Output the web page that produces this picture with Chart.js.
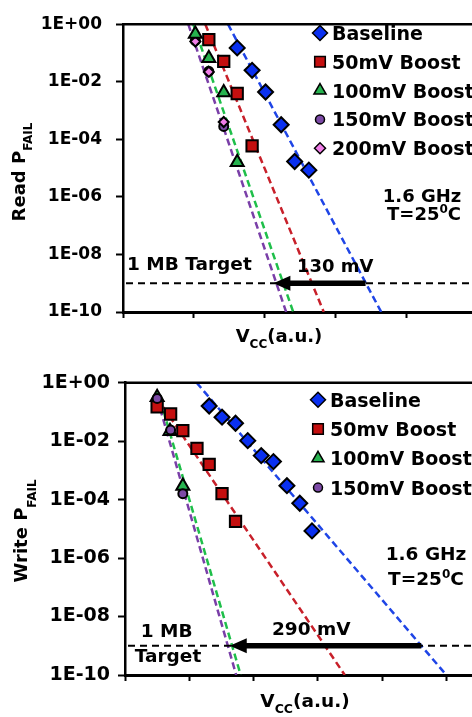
<!DOCTYPE html>
<html>
<head>
<meta charset="utf-8">
<script src="https://cdn.jsdelivr.net/npm/chart.js@4.4.0/dist/chart.umd.min.js"></script>
<style>
  body { margin:0; background:#fff; }
  .panel { position:absolute; left:0; width:472px; }
  #readPanel { top:0; height:360px; }
  #writePanel { top:360px; height:357px; }
</style>
</head>
<body>
<div class="panel" id="readPanel"><canvas id="readChart" width="472" height="360"></canvas></div>
<div class="panel" id="writePanel"><canvas id="writeChart" width="472" height="357"></canvas></div>
<script>
// Vcc in axis units (one unit per x tick), P_FAIL
const yTicks = [1, 1e-2, 1e-4, 1e-6, 1e-8, 1e-10];
const targetP = 1e-9;

// --- Read panel ---
const readNames = ['Baseline', '50mV Boost', '100mV Boost', '150mV Boost', '200mV Boost'];
const readBaseX = [1.61, 1.82, 2.01, 2.23, 2.42, 2.62];
const readBaseY = [0.15, 0.025, 0.0044, 3.2e-4, 1.7e-5, 8.5e-6];
const read50X = [1.21, 1.42, 1.61, 1.82];
const read50Y = [0.29, 0.051, 0.0039, 5.9e-5];
const read100X = [1.02, 1.21, 1.42, 1.61];
const read100Y = [0.46, 0.066, 0.0042, 1.6e-5];
const read150X = [1.02, 1.21, 1.42];
const read150Y = [0.27, 0.023, 2.8e-4];
const read200X = [1.02, 1.21, 1.42];
const read200Y = [0.25, 0.022, 4.0e-4];
// dashed fits: [start, end]
const readFitY = [1, 1e-10];
const readFitBaseX = [1.48, 3.64];
const readFit50X = [1.16, 2.83];
const readFit100X = [0.99, 2.40];
const readFit150X = [0.92, 2.30];
const readArrowX = [3.42, 2.12];

// --- Write panel ---
const writeNames = ['Baseline', '50mv Boost', '100mV Boost', '150mV Boost'];
const writeBaseX = [1.31, 1.51, 1.72, 1.91, 2.12, 2.31, 2.52, 2.72, 2.91];
const writeBaseY = [0.16, 0.066, 0.041, 0.0104, 0.0032, 0.002, 3.0e-4, 7.5e-5, 8.5e-6];
const write50X = [0.50, 0.71, 0.90, 1.12, 1.31, 1.51, 1.72];
const write50Y = [0.15, 0.085, 0.023, 0.0057, 0.0016, 1.6e-4, 1.8e-5];
const write100X = [0.50, 0.70, 0.90];
const write100Y = [0.32, 0.022, 2.9e-4];
const write150X = [0.50, 0.71, 0.90];
const write150Y = [0.29, 0.024, 1.6e-4];
const writeFitBaseX = [1.115, 5.0];
const writeFitBaseY = [1, 1e-10];
const writeFit50X = [0.5, 3.42];
const writeFit50Y = [0.3, 1e-10];
const writeFit100X = [0.55, 1.80];
const writeFit100Y = [0.25, 1e-10];
const writeFit150X = [0.5, 1.73];
const writeFit150Y = [0.3, 1e-10];
const writeArrowX = [4.61, 1.63];

const FONT = '"DejaVu Sans", sans-serif';
const MARK = {
  base: { style:'rectRot', r:7.5, fill:'#0a30f0', line:'#1f45e6' },
  b50:  { style:'rect', r:8, fill:'#c40f0f', line:'#c8202a' },
  b100: { style:'triangle', r:7.5, fill:'#27b34f', line:'#1fbf4a' },
  b150: { style:'circle', r:4.5, fill:'#7c4aa6', line:'#7a3fa8' },
  b200: { style:'rectRot', r:5, fill:'#f07ee8', line:'#f07ee8' }
};

const pts = (xs, ys) => xs.map((x, i) => ({ x, y: ys[i] }));

function markerSet(m, xs, ys, order){
  return { data: pts(xs, ys), showLine:false, pointStyle:m.style, pointRadius:m.r, pointHoverRadius:m.r,
    pointBackgroundColor:m.fill, pointBorderColor:'#000', pointBorderWidth:2, order };
}
function fitSet(m, xs, ys){
  return { data: pts(xs, ys), showLine:true, borderColor:m.line, borderWidth:2.5, borderDash:[7,4],
    pointRadius:0, fill:false, order:20 };
}

function fmtTick(v){
  const e = Math.round(Math.log10(v));
  return '1E' + (e < 0 ? '-' : '+') + String(Math.abs(e)).padStart(2, '0');
}

// text made of [string, size, dy] pieces (for sub/superscripts)
function drawParts(ctx, parts, x, y, align){
  let total = 0;
  const widths = parts.map(p => { ctx.font = 'bold ' + p[1] + 'px ' + FONT; const w = ctx.measureText(p[0]).width; total += w; return w; });
  let cx = align === 'center' ? x - total / 2 : x;
  ctx.textAlign = 'left';
  ctx.textBaseline = 'alphabetic';
  parts.forEach((p, i) => {
    ctx.font = 'bold ' + p[1] + 'px ' + FONT;
    ctx.fillText(p[0], cx, y + (p[2] || 0));
    cx += widths[i];
  });
}

function decor(cfg){
  return {
    id: 'decor',
    afterDatasetsDraw(chart){
      const ctx = chart.ctx, a = chart.chartArea;
      const xs = chart.scales.x, ys = chart.scales.y;
      ctx.save();
      ctx.fillStyle = '#000';
      ctx.strokeStyle = '#000';
      // frame top
      ctx.lineWidth = 2.5;
      ctx.beginPath(); ctx.moveTo(a.left, a.top); ctx.lineTo(a.right, a.top); ctx.stroke();

      // 1 MB target line + arrow
      const ty = ys.getPixelForValue(targetP);
      ctx.lineWidth = 2;
      ctx.setLineDash([7, 5]);
      ctx.beginPath(); ctx.moveTo(a.left + 3, ty); ctx.lineTo(a.right, ty); ctx.stroke();
      ctx.setLineDash([]);
      const x0 = xs.getPixelForValue(cfg.arrow[0]), x1 = xs.getPixelForValue(cfg.arrow[1]);
      ctx.lineWidth = 5.5;
      ctx.beginPath(); ctx.moveTo(x0, ty); ctx.lineTo(x1 + 14, ty); ctx.stroke();
      ctx.beginPath(); ctx.moveTo(x1, ty); ctx.lineTo(x1 + 17, ty - 7.5); ctx.lineTo(x1 + 17, ty + 7.5); ctx.closePath(); ctx.fill();

      // legend
      cfg.legend.forEach((it, i) => {
        const by = cfg.legendTop + i * cfg.legendStep;
        ctx.fillStyle = it.m.fill;
        ctx.strokeStyle = '#000';
        ctx.lineWidth = 1.5;
        Chart.helpers.drawPoint(ctx, { pointStyle: it.m.style, radius: it.lr, rotation: 0, borderWidth: 1.5 }, cfg.legendX, by - 7);
        ctx.fillStyle = '#000';
        drawParts(ctx, [[it.name, 19, 0]], cfg.legendX + 12, by, 'left');
      });

      // free texts
      cfg.texts.forEach(t => drawParts(ctx, t.parts, t.x, t.y, t.align));

      // y title, rotated
      ctx.save();
      ctx.translate(cfg.yTitle.x, cfg.yTitle.y);
      ctx.rotate(-Math.PI / 2);
      drawParts(ctx, cfg.yTitle.parts, 0, 0, 'center');
      ctx.restore();

      ctx.restore();
    }
  };
}

function makeChart(id, cfg){
  new Chart(document.getElementById(id).getContext('2d'), {
    type: 'scatter',
    data: { datasets: cfg.datasets },
    options: {
      responsive: false,
      animation: false,
      devicePixelRatio: 1,
      layout: { autoPadding: false, padding: { top: cfg.top, left: 0, right: 0, bottom: 0 } },
      plugins: { legend: { display:false }, tooltip: { enabled:false } },
      scales: {
        x: {
          type: 'linear', min: 0, max: cfg.xMax,
          afterBuildTicks: s => { s.ticks = [0, 1, 2, 3, 4, 5].filter(v => v <= cfg.xMax).map(v => ({ value: v })); },
          afterFit: s => { s.height = cfg.xHeight; },
          ticks: { callback: () => '', padding: 0 },
          grid: { drawOnChartArea:false, drawTicks:true, tickLength:6, tickWidth:2, tickColor:'#000' },
          border: { color:'#000', width:3 }
        },
        y: {
          type: 'logarithmic', min: 1e-10, max: 1,
          afterBuildTicks: s => { s.ticks = yTicks.map(v => ({ value: v })); },
          afterFit: s => { s.width = cfg.yWidth; },
          ticks: { callback: v => fmtTick(v), color:'#000', padding: cfg.tickPad,
            font: { family: FONT, size: cfg.tickSize, weight: 'bold' } },
          grid: { drawOnChartArea:false, drawTicks:true, tickLength:7, tickWidth:2, tickColor:'#000' },
          border: { color:'#000', width:2.5 }
        }
      }
    },
    plugins: [decor(cfg)]
  });
}

// Read PFAIL
makeChart('readChart', {
  top: 15, xMax: 4.92, xHeight: 48, yWidth: 123, tickPad: 14, tickSize: 17,
  arrow: readArrowX,
  datasets: [
    markerSet(MARK.base, readBaseX, readBaseY, 1),
    markerSet(MARK.b50, read50X, read50Y, 2),
    markerSet(MARK.b100, read100X, read100Y, 3),
    markerSet(MARK.b150, read150X, read150Y, 5),
    markerSet(MARK.b200, read200X, read200Y, 4),
    fitSet(MARK.base, readFitBaseX, readFitY),
    fitSet(MARK.b50, readFit50X, readFitY),
    fitSet(MARK.b100, readFit100X, readFitY),
    fitSet(MARK.b150, readFit150X, readFitY)
  ],
  legendX: 320, legendTop: 40, legendStep: 28.8,
  legend: [
    { name: readNames[0], m: MARK.base, lr: 7.5 },
    { name: readNames[1], m: MARK.b50, lr: 7.5 },
    { name: readNames[2], m: MARK.b100, lr: 7 },
    { name: readNames[3], m: MARK.b150, lr: 4.5 },
    { name: readNames[4], m: MARK.b200, lr: 5.5 }
  ],
  texts: [
    { parts: [['1 MB Target', 18.5]], x: 127, y: 269.5, align: 'left' },
    { parts: [['130 mV', 18]], x: 297, y: 271.5, align: 'left' },
    { parts: [['1.6 GHz', 18]], x: 422, y: 202, align: 'center' },
    { parts: [['T=25', 18], ['0', 12, -7], ['C', 18]], x: 424, y: 220, align: 'center' },
    { parts: [['V', 18], ['CC', 12, 6], ['(a.u.)', 18]], x: 279, y: 341.5, align: 'center' }
  ],
  yTitle: { x: 25, y: 172, parts: [['Read P', 18], ['FAIL', 12, 7]] }
});

// Write PFAIL
makeChart('writeChart', {
  top: 22.7, xMax: 5.4, xHeight: 42, yWidth: 125, tickPad: 8, tickSize: 19,
  arrow: writeArrowX,
  datasets: [
    markerSet(MARK.base, writeBaseX, writeBaseY, 1),
    markerSet(MARK.b50, write50X, write50Y, 6),
    markerSet(MARK.b100, write100X, write100Y, 5),
    markerSet(MARK.b150, write150X, write150Y, 4),
    fitSet(MARK.base, writeFitBaseX, writeFitBaseY),
    fitSet(MARK.b50, writeFit50X, writeFit50Y),
    fitSet(MARK.b100, writeFit100X, writeFit100Y),
    fitSet(MARK.b150, writeFit150X, writeFit150Y)
  ],
  legendX: 318, legendTop: 46.7, legendStep: 29.3,
  legend: [
    { name: writeNames[0], m: MARK.base, lr: 7.5 },
    { name: writeNames[1], m: MARK.b50, lr: 7.5 },
    { name: writeNames[2], m: MARK.b100, lr: 7 },
    { name: writeNames[3], m: MARK.b150, lr: 4.5 }
  ],
  texts: [
    { parts: [['1 MB', 18.5]], x: 166.7, y: 276.7, align: 'center' },
    { parts: [['Target', 18.5]], x: 168, y: 302, align: 'center' },
    { parts: [['290 mV', 18.5]], x: 272, y: 275, align: 'left' },
    { parts: [['1.6 GHz', 18.5]], x: 426, y: 200, align: 'center' },
    { parts: [['T=25', 18.5], ['0', 12, -7], ['C', 18.5]], x: 426, y: 225, align: 'center' },
    { parts: [['V', 18.5], ['CC', 12.5, 6], ['(a.u.)', 18.5]], x: 305, y: 346.5, align: 'center' }
  ],
  yTitle: { x: 27, y: 171, parts: [['Write P', 18], ['FAIL', 12, 9]] }
});
</script>
</body>
</html>
